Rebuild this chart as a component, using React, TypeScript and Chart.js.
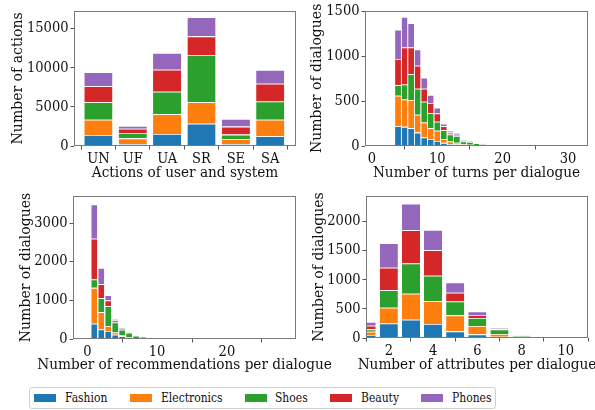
import React, { useEffect, useRef } from "react";
import { Chart, registerables } from "chart.js";
Chart.register(...registerables);

const FONT = "'DejaVu Serif Condensed', 'DejaVu Serif', serif";
Chart.defaults.font.family = FONT;

const SERIES = ["Fashion", "Electronics", "Shoes", "Beauty", "Phones"];
const COLORS = ["#1f77b4", "#ff7f0e", "#2ca02c", "#d62728", "#9467bd"];

// Panel 1: actions
const actionLabels = ["UN", "UF", "UA", "SR", "SE", "SA"];
const actionX = [0, 1, 2, 3, 4, 5];
const actionFashion = [1400, 250, 1550, 2850, 250, 1260];
const actionElectronics = [1970, 730, 2520, 2750, 650, 2110];
const actionShoes = [2230, 690, 2880, 6030, 560, 2320];
const actionBeauty = [2040, 530, 2810, 2390, 1020, 2280];
const actionPhones = [1790, 360, 2140, 2440, 980, 1750];
const actionYTicks = [0, 5000, 10000, 15000];

// Panel 2: turns per dialogue
const turnX = [1, 2, 3, 4, 5, 6, 7, 8, 9, 10, 11, 12, 13, 14, 15, 16, 17, 18, 19, 20, 21, 22, 23, 24, 25, 26, 27, 28, 29, 30, 31];
const turnFashion = [0, 0, 0, 220, 213, 199, 149, 96, 78, 57, 35, 21, 18, 8, 6, 3, 2, 1, 1, 1, 1, 0, 0, 0, 0, 0, 0, 0, 0, 0, 0];
const turnElectronics = [0, 0, 0, 340, 305, 312, 199, 166, 121, 113, 43, 29, 17, 12, 9, 5, 4, 2, 2, 1, 1, 1, 0, 0, 0, 0, 0, 0, 0, 0, 0];
const turnShoes = [0, 0, 0, 117, 166, 287, 290, 231, 166, 100, 99, 78, 78, 30, 30, 22, 14, 10, 6, 5, 4, 5, 3, 2, 1, 1, 0, 1, 0, 0, 0];
const turnBeauty = [6, 6, 6, 291, 412, 298, 256, 145, 114, 92, 43, 21, 11, 10, 7, 5, 3, 3, 2, 2, 2, 3, 1, 1, 0, 0, 1, 0, 0, 0, 1];
const turnPhones = [0, 0, 0, 326, 340, 269, 180, 121, 88, 64, 28, 21, 21, 11, 8, 4, 3, 2, 1, 1, 2, 3, 1, 0, 1, 0, 0, 0, 1, 0, 0];
const turnXTicks = [0, 10, 20, 30];
const turnYTicks = [0, 500, 1000, 1500];

// Panel 3: recommendations per dialogue
const recX = [0, 1, 2, 3, 4, 5, 6, 7, 8, 9, 10, 11, 12, 13, 14, 15, 16, 17, 18, 19, 20, 21, 22, 23, 24, 25, 26, 27, 28];
const recFashion = [0, 396, 249, 206, 110, 70, 35, 15, 10, 6, 5, 3, 2, 1, 1, 0, 0, 0, 0, 0, 0, 0, 0, 0, 0, 0, 0, 0, 0];
const recElectronics = [0, 928, 447, 129, 60, 25, 15, 5, 4, 3, 2, 2, 1, 1, 0, 0, 0, 0, 0, 0, 0, 0, 0, 0, 0, 0, 0, 0, 0];
const recShoes = [0, 215, 362, 516, 260, 145, 115, 65, 45, 37, 30, 20, 13, 9, 6, 4, 3, 2, 2, 1, 1, 1, 1, 0, 1, 0, 0, 1, 1];
const recBeauty = [10, 1058, 361, 146, 50, 25, 15, 5, 3, 2, 2, 2, 1, 1, 1, 1, 0, 0, 0, 0, 0, 0, 0, 0, 0, 0, 0, 0, 0];
const recPhones = [0, 885, 421, 138, 40, 25, 10, 5, 3, 2, 1, 1, 1, 0, 0, 0, 1, 0, 0, 0, 0, 0, 0, 0, 0, 0, 0, 0, 0];
const recXTicks = [0, 10, 20];
const recYTicks = [0, 1000, 2000, 3000];

// Panel 4: attributes per dialogue
const attrX = [1, 2, 3, 4, 5, 6, 7, 8, 9, 10];
const attrFashion = [51, 251, 314, 240, 114, 63, 23, 5, 1, 0];
const attrElectronics = [58, 269, 446, 394, 275, 143, 46, 15, 5, 1];
const attrShoes = [40, 303, 520, 435, 240, 137, 80, 20, 6, 1];
const attrBeauty = [62, 383, 571, 440, 148, 51, 11, 3, 1, 0];
const attrPhones = [63, 423, 458, 348, 177, 63, 11, 3, 2, 0];
const attrXTicks = [2, 4, 6, 8, 10];
const attrYTicks = [0, 500, 1000, 1500, 2000];

type PanelCfg = {
  xs: number[];
  series: number[][];
  xMin: number;
  xMax: number;
  yMax: number;
  xTicks: number[];
  xTickLabels?: string[];
  yTicks: number[];
  xTitle: string;
  xTitleBaseline: number;
  yTitle: string;
  area: { l: number; t: number; r: number; b: number };
  yAxisW: number;
  barPct: number;
};

const W = 595;
const H = 410;
const TICK_FONT = 14.5;
const X_TITLE_FONT = 15.2;
const Y_TITLE_FONT = 15.6;
const X_AXIS_H = 24;

const framePlugin = {
  id: "frame",
  afterDraw(chart: any) {
    const { ctx, chartArea } = chart;
    const l = Math.round(chartArea.left) + 0.5;
    const t = Math.round(chartArea.top) + 0.5;
    const r = Math.round(chartArea.right) - 0.5;
    const b = Math.round(chartArea.bottom) - 0.5;
    ctx.save();
    ctx.strokeStyle = "#7a7a7a";
    ctx.lineWidth = 1;
    ctx.strokeRect(l, t, r - l, b - t);
    ctx.restore();
  },
};

const xTitlePlugin = {
  id: "xTitleText",
  afterDraw(chart: any, _args: any, opts: any) {
    const { ctx, chartArea } = chart;
    ctx.save();
    ctx.font = `${X_TITLE_FONT}px ${FONT}`;
    ctx.fillStyle = "#111";
    ctx.textAlign = "center";
    ctx.textBaseline = "alphabetic";
    ctx.fillText(opts.text, (chartArea.left + chartArea.right) / 2, opts.y);
    ctx.restore();
  },
};

function Panel({ cfg }: { cfg: PanelCfg }) {
  const ref = useRef<HTMLCanvasElement | null>(null);
  useEffect(() => {
    if (!ref.current) return;
    const tickFont = { size: TICK_FONT, family: FONT };
    const chart = new Chart(ref.current, {
      type: "bar",
      data: {
        datasets: SERIES.map((name, i) => ({
          label: name,
          data: cfg.xs.map((x, j) => ({ x, y: cfg.series[i][j] })),
          backgroundColor: COLORS[i],
          borderColor: "rgba(255,255,255,0.55)",
          borderWidth: { top: 0.8, left: 0, right: 0, bottom: 0 },
          borderSkipped: false,
          barPercentage: cfg.barPct,
          categoryPercentage: 1,
        })),
      },
      options: {
        animation: false,
        responsive: false,
        maintainAspectRatio: false,
        layout: {
          padding: {
            left: cfg.area.l - cfg.yAxisW,
            top: cfg.area.t,
            right: W - cfg.area.r,
            bottom: H - cfg.area.b - X_AXIS_H,
          },
        },
        plugins: {
          legend: { display: false },
          tooltip: { enabled: false },
          xTitleText: { text: cfg.xTitle, y: cfg.xTitleBaseline },
        },
        scales: {
          x: {
            type: "linear",
            stacked: true,
            offset: false,
            min: cfg.xMin,
            max: cfg.xMax,
            afterBuildTicks: (s: any) => {
              s.ticks = cfg.xTicks.map((v) => ({ value: v }));
            },
            afterFit: (s: any) => {
              s.height = X_AXIS_H;
            },
            ticks: {
              autoSkip: false,
              maxRotation: 0,
              padding: 1,
              color: "#111",
              font: tickFont,
              callback: (v: any) =>
                cfg.xTickLabels ? cfg.xTickLabels[Number(v)] : String(v),
            },
            grid: {
              display: true,
              drawOnChartArea: false,
              drawTicks: true,
              tickLength: 3.5,
              color: "#555",
            },
            border: { display: false },
            title: { display: false },
          },
          y: {
            type: "linear",
            stacked: true,
            min: 0,
            max: cfg.yMax,
            afterBuildTicks: (s: any) => {
              s.ticks = cfg.yTicks.map((v) => ({ value: v }));
            },
            afterFit: (s: any) => {
              s.width = cfg.yAxisW;
            },
            ticks: {
              padding: 2,
              color: "#111",
              font: tickFont,
              callback: (v: any) => String(v),
            },
            grid: {
              display: true,
              drawOnChartArea: false,
              drawTicks: true,
              tickLength: 3.5,
              color: "#555",
            },
            border: { display: false },
            title: {
              display: true,
              text: cfg.yTitle,
              color: "#111",
              font: { size: Y_TITLE_FONT, family: FONT },
              padding: { top: 0, bottom: 0 },
            },
          },
        },
      } as any,
      plugins: [framePlugin, xTitlePlugin],
    });
    return () => chart.destroy();
  }, [cfg]);
  return (
    <canvas
      ref={ref}
      width={W}
      height={H}
      style={{ position: "absolute", left: 0, top: 0, width: W, height: H }}
    />
  );
}

const panels: PanelCfg[] = [
  {
    xs: actionX,
    series: [actionFashion, actionElectronics, actionShoes, actionBeauty, actionPhones],
    xMin: -0.71,
    xMax: 5.75,
    yMax: 17300,
    xTicks: actionX,
    xTickLabels: actionLabels,
    yTicks: actionYTicks,
    xTitle: "Actions of user and system",
    xTitleBaseline: 177,
    yTitle: "Number of actions",
    area: { l: 74, t: 4, r: 296, b: 146 },
    yAxisW: 65.4,
    barPct: 0.82,
  },
  {
    xs: turnX,
    series: [turnFashion, turnElectronics, turnShoes, turnBeauty, turnPhones],
    xMin: -1.05,
    xMax: 33.05,
    yMax: 1505,
    xTicks: turnXTicks,
    yTicks: turnYTicks,
    xTitle: "Number of turns per dialogue",
    xTitleBaseline: 177,
    yTitle: "Number of dialogues",
    area: { l: 365, t: 4, r: 588, b: 146 },
    yAxisW: 57.4,
    barPct: 0.9,
  },
  {
    xs: recX,
    series: [recFashion, recElectronics, recShoes, recBeauty, recPhones],
    xMin: -2.05,
    xMax: 29.9,
    yMax: 3700,
    xTicks: recXTicks,
    yTicks: recYTicks,
    xTitle: "Number of recommendations per dialogue",
    xTitleBaseline: 369,
    yTitle: "Number of dialogues",
    area: { l: 73, t: 196, r: 296, b: 339 },
    yAxisW: 56.4,
    barPct: 0.86,
  },
  {
    xs: attrX,
    series: [attrFashion, attrElectronics, attrShoes, attrBeauty, attrPhones],
    xMin: 0.97,
    xMax: 11.0,
    yMax: 2440,
    xTicks: attrXTicks,
    yTicks: attrYTicks,
    xTitle: "Number of attributes per dialogue",
    xTitleBaseline: 369,
    yTitle: "Number of dialogues",
    area: { l: 366, t: 196, r: 588, b: 338 },
    yAxisW: 56.4,
    barPct: 0.82,
  },
];

const legendItems = [
  { patch: 34, text: 65 },
  { patch: 130, text: 161 },
  { patch: 245, text: 275 },
  { patch: 330, text: 361 },
  { patch: 421, text: 452 },
];

export default function App() {
  return (
    <div
      style={{
        position: "absolute",
        left: 0,
        top: 0,
        width: W,
        height: H,
        background: "#fff",
        fontFamily: FONT,
      }}
    >
      {panels.map((p, i) => (
        <Panel key={i} cfg={p} />
      ))}
      <div
        style={{
          position: "absolute",
          left: 29,
          top: 387,
          width: 467,
          height: 22,
          boxSizing: "border-box",
          border: "1px solid #d0d0d0",
          borderRadius: 3,
          background: "#fff",
        }}
      />
      {SERIES.map((name, i) => (
        <React.Fragment key={name}>
          <div
            style={{
              position: "absolute",
              left: legendItems[i].patch,
              top: 394,
              width: 22,
              height: 8,
              background: COLORS[i],
            }}
          />
          <div
            style={{
              position: "absolute",
              left: legendItems[i].text,
              top: 389,
              fontSize: 13,
              lineHeight: "17px",
              color: "#111",
              whiteSpace: "nowrap",
              transform: "scaleX(0.92)",
              transformOrigin: "left center",
            }}
          >
            {name}
          </div>
        </React.Fragment>
      ))}
    </div>
  );
}
